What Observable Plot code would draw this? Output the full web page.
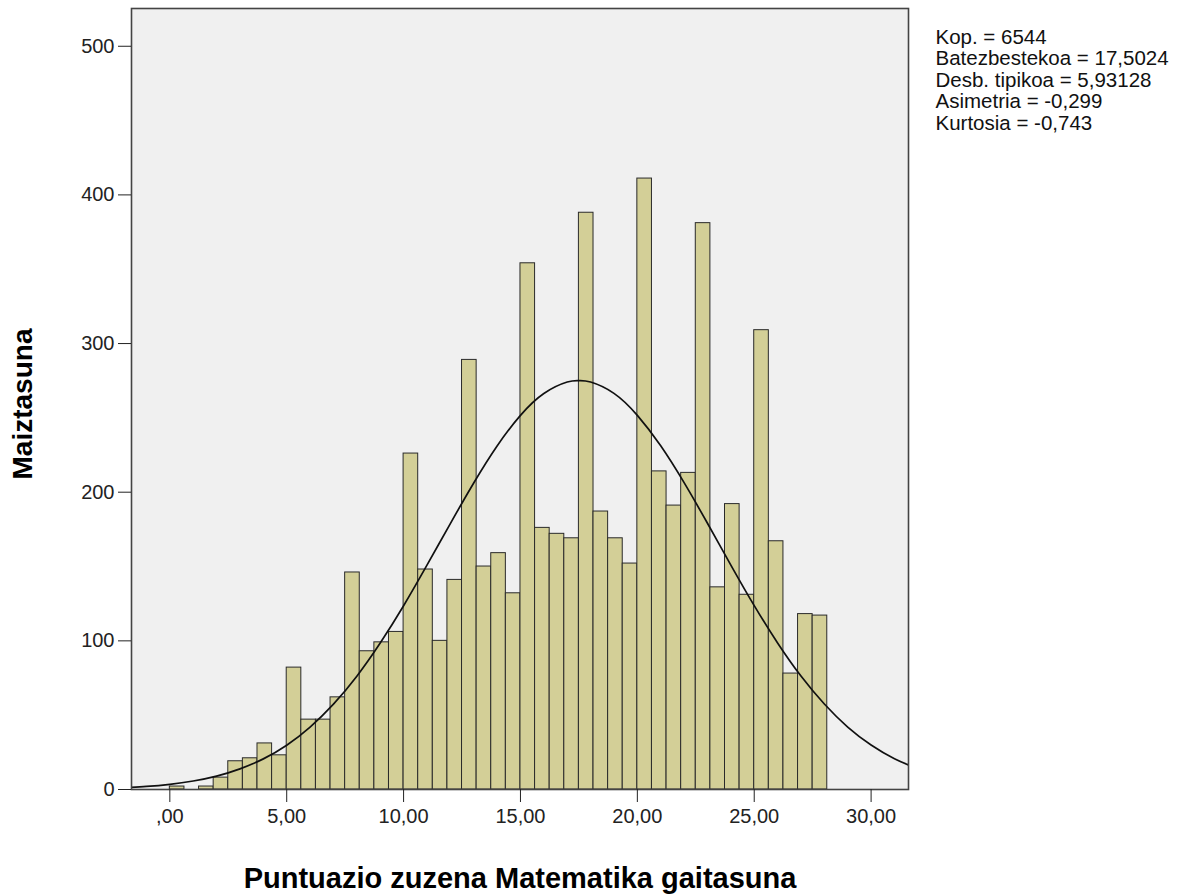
<!DOCTYPE html>
<html>
<head>
<meta charset="utf-8">
<script src="https://cdn.jsdelivr.net/npm/d3@7"></script>
<script src="https://cdn.jsdelivr.net/npm/@observablehq/plot@0.6"></script>
<style>
  html, body { margin: 0; padding: 0; background: #ffffff; }
  #chart svg { display: block; }
</style>
</head>
<body>
<div id="chart"></div>
<script>
// Histogram counts (bins of width 0.625 starting at 0)
const binStart = 0;
const binWidth = 0.625;
const counts = [2, 0, 2, 8, 19, 21, 31, 23, 82, 47, 47, 62, 146, 93, 99, 106, 226, 148, 100, 141,
  289, 150, 159, 132, 354, 176, 172, 169, 388, 187, 169, 152, 411, 214, 191, 213, 381, 136,
  192, 131, 309, 167, 78, 118, 117];

// Normal curve
const curveX = [-2, -1, 0, 1, 2, 3, 4, 5, 6, 7, 8, 9, 10, 11, 12, 13, 14, 15, 16, 17, 17.5,
  18, 19, 20, 21, 22, 23, 24, 25, 26, 27, 28, 29, 30, 31, 32];
const curveY = [1.2, 2.1, 3.5, 5.7, 9.0, 13.9, 20.6, 29.8, 42.0, 57.4, 76.2, 98.5, 123.6, 150.9,
  178.9, 206.2, 231.1, 251.7, 266.4, 274.1, 275.1, 274.1, 266.5, 251.7, 231.2, 206.4, 179.1,
  151.0, 123.7, 98.6, 76.3, 57.5, 42.0, 29.9, 20.7, 13.9];

const xTicks = [0, 5, 10, 15, 20, 25, 30];
const xTickLabels = [",00", "5,00", "10,00", "15,00", "20,00", "25,00", "30,00"];
const yTicks = [0, 100, 200, 300, 400, 500];

const xTitle = "Puntuazio zuzena Matematika gaitasuna";
const yTitle = "Maiztasuna";
const statsLines = ["Kop. = 6544", "Batezbestekoa = 17,5024", "Desb. tipikoa = 5,93128",
  "Asimetria = -0,299", "Kurtosia = -0,743"];

const bars = counts.map((c, i) => ({
  x1: binStart + i * binWidth,
  x2: binStart + (i + 1) * binWidth,
  count: c
}));
const curve = curveX.map((x, i) => ({x, y: curveY[i]}));

const chart = Plot.plot({
  width: 1185,
  height: 895,
  marginLeft: 131,
  marginRight: 277,
  marginTop: 8,
  marginBottom: 106,
  style: {fontFamily: "'Liberation Sans', Arial, sans-serif", fontSize: "20px", color: "#222", background: "#ffffff"},
  x: {domain: [-1.64, 31.6]},
  y: {domain: [0, 525.4]},
  marks: [
    Plot.frame({fill: "#f0f0f0", stroke: null}),
    Plot.rect(bars, {x1: "x1", x2: "x2", y1: 0, y2: "count", fill: "#d3cf97", stroke: "#2a2a2a", strokeWidth: 1}),
    Plot.line(curve, {x: "x", y: "y", curve: "natural", clip: true, stroke: "#111", strokeWidth: 1.7}),
    Plot.frame({stroke: "#444", strokeWidth: 1.6}),
    Plot.axisX({ticks: xTicks, tickFormat: (d) => xTickLabels[xTicks.indexOf(d)], tickSize: 13, tickPadding: 6, fontSize: 20, label: null}),
    Plot.axisY({ticks: yTicks, tickSize: 13, tickPadding: 4, fontSize: 20, label: null}),
    Plot.text([xTitle], {frameAnchor: "bottom", dy: 78, lineAnchor: "top", textAnchor: "middle", fontSize: 29, fontWeight: "bold", fill: "#000"}),
    Plot.text([yTitle], {frameAnchor: "left", dx: -108, dy: 5, rotate: -90, textAnchor: "middle", fontSize: 28, fontWeight: "bold", fill: "#000"}),
    Plot.text([statsLines.join("\n")], {frameAnchor: "top-right", dx: 27, dy: 20, textAnchor: "start", lineAnchor: "top", lineHeight: 1.05, fontSize: 20.5, fill: "#111"})
  ]
});
document.getElementById("chart").appendChild(chart);
</script>
</body>
</html>
